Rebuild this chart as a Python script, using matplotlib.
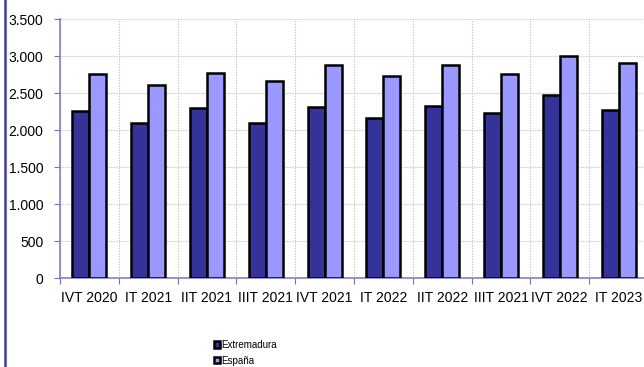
import matplotlib
matplotlib.use("Agg")
import matplotlib.pyplot as plt
from matplotlib.lines import Line2D
from matplotlib.ticker import FuncFormatter, FixedLocator
import numpy as np

plt.rcParams['font.family'] = ['Liberation Sans', 'DejaVu Sans']

categories = ["IVT 2020", "IT 2021", "IIT 2021", "IIIT 2021", "IVT 2021",
              "IT 2022", "IIT 2022", "IIIT 2021", "IVT 2022", "IT 2023"]
extremadura = [2260, 2102, 2296, 2102, 2310, 2160, 2330, 2232, 2482, 2269]
espana = [2754, 2609, 2772, 2659, 2880, 2735, 2880, 2762, 3003, 2908]
series_names = ["Extremadura", "España"]
colors = ["#333399", "#9999FF"]

fig = plt.figure(figsize=(6.44, 3.67), dpi=100)
ax = fig.add_axes([60/644, 1-278/367, (648-60)/644, (278-19.3)/367])

x = np.arange(len(categories))
w = 0.29
bars1 = ax.bar(x - w/2, extremadura, w, color=colors[0], edgecolor="black", linewidth=1.8, zorder=3, label=series_names[0])
bars2 = ax.bar(x + w/2, espana, w, color=colors[1], edgecolor="black", linewidth=1.8, zorder=3, label=series_names[1])

ax.set_xlim(-0.5, len(categories) - 0.5)
ax.set_ylim(0, 3500)
ax.set_yticks(np.arange(0, 3501, 500))
ax.yaxis.set_major_formatter(FuncFormatter(lambda v, p: f"{int(v):,}".replace(",", ".")))

ax.xaxis.set_major_locator(FixedLocator(np.arange(len(categories) + 1) - 0.5))
ax.xaxis.set_minor_locator(FixedLocator(x))
ax.set_xticklabels([], minor=False)
ax.set_xticklabels(categories, minor=True)
ax.tick_params(axis='x', which='minor', length=0, pad=9, labelsize=10)
ax.tick_params(axis='x', which='major', length=4, color="#7070c0", direction='out')
ax.tick_params(axis='y', length=4, color="#7070c0", pad=8, labelsize=10)

ax.grid(True, which='major', color="#c4c4c4", linestyle=(0, (1.2, 1.2)), linewidth=0.8, zorder=0)
ax.set_axisbelow(True)
for s in ["top", "right"]:
    ax.spines[s].set_visible(False)
for s in ["left", "bottom"]:
    ax.spines[s].set_color("#8080c8")
    ax.spines[s].set_linewidth(1.2)

leg = fig.legend(handles=[bars1, bars2], labels=series_names, loc="upper left",
                 bbox_to_anchor=(214/644, 1-340/367), frameon=False, fontsize=7,
                 handlelength=0.6, handleheight=0.6, handletextpad=0.1,
                 labelspacing=0.6, borderaxespad=0, borderpad=0)

fig.add_artist(Line2D([4.5/644, 4.5/644], [0, 1], color="#3c3ca8", linewidth=1.8, transform=fig.transFigure))

fig.savefig("out.png", dpi=100)
